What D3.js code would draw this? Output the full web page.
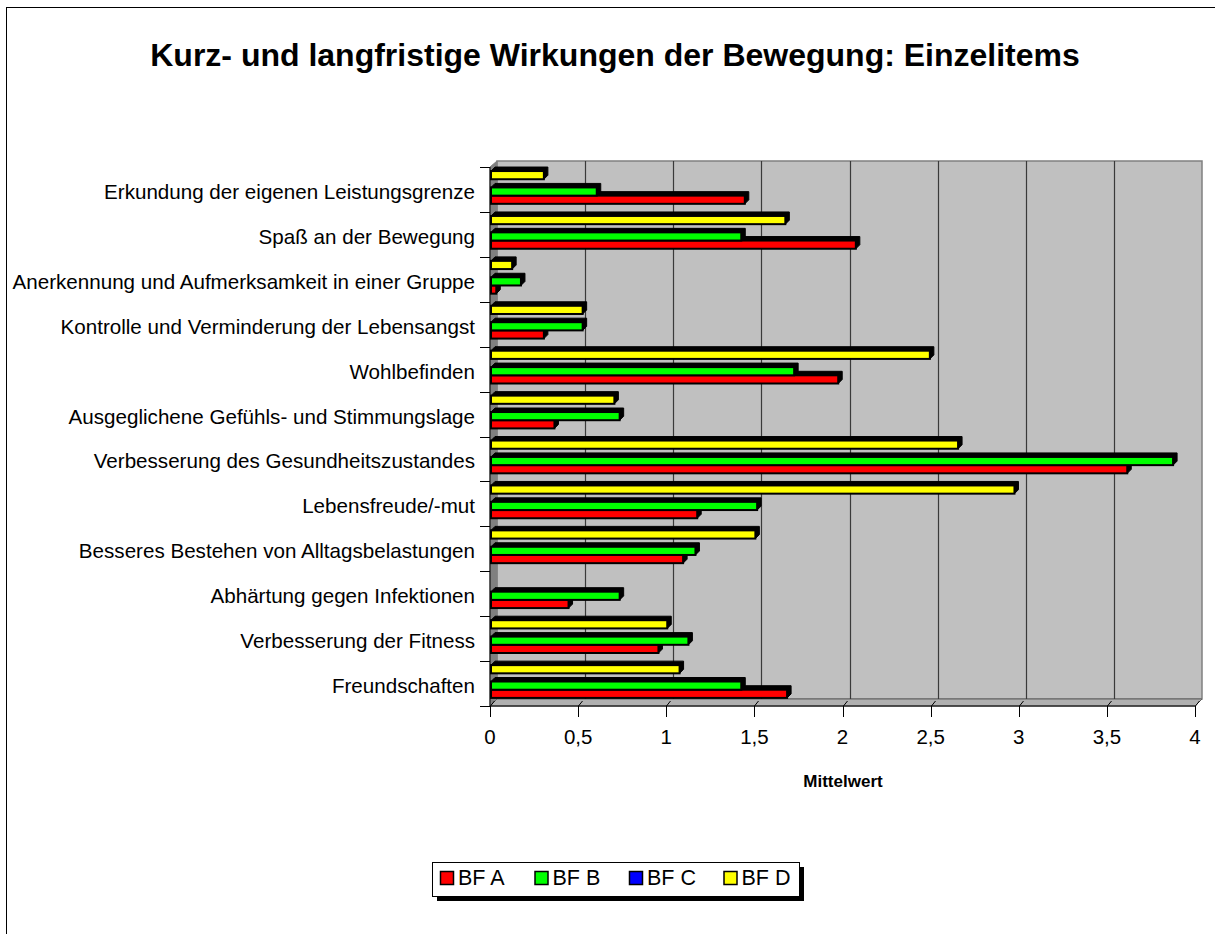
<!DOCTYPE html>
<html>

<head>
    <meta charset="utf-8">
    <script src="https://cdn.jsdelivr.net/npm/d3@7"></script>
    <style>
        body {
            margin: 0;
            background: #fff;
        }

        text {
            font-family: "Liberation Sans", Arial, sans-serif;
            fill: #000;
        }
    </style>
</head>

<body>
    <script type="text/javascript">
        "use strict";

        // categories, top to bottom as in the chart
        var categories = [
            "Erkundung der eigenen Leistungsgrenze",
            "Spaß an der Bewegung",
            "Anerkennung und Aufmerksamkeit in einer Gruppe",
            "Kontrolle und Verminderung der Lebensangst",
            "Wohlbefinden",
            "Ausgeglichene Gefühls- und Stimmungslage",
            "Verbesserung des Gesundheitszustandes",
            "Lebensfreude/-mut",
            "Besseres Bestehen von Alltagsbelastungen",
            "Abhärtung gegen Infektionen",
            "Verbesserung der Fitness",
            "Freundschaften"
        ];

        var seriesNames = ["BF A", "BF B", "BF C", "BF D"];
        var seriesColors = ["#ff0000", "#00ff00", "#0000ff", "#ffff00"];

        // Mittelwerte (null = no bar)
        var bfA = [1.44, 2.07, 0.03, 0.30, 1.97, 0.36, 3.61, 1.17, 1.09, 0.44, 0.95, 1.68];
        var bfB = [0.60, 1.42, 0.17, 0.52, 1.72, 0.73, 3.87, 1.51, 1.16, 0.73, 1.12, 1.42];
        var bfC = [null, null, null, null, null, null, null, null, null, null, null, null];
        var bfD = [0.30, 1.67, 0.12, 0.52, 2.49, 0.70, 2.65, 2.97, 1.50, null, 1.00, 1.07];

        var xTickValues = [0, 0.5, 1, 1.5, 2, 2.5, 3, 3.5, 4];
        var xTickLabels = ["0", "0,5", "1", "1,5", "2", "2,5", "3", "3,5", "4"];

        var allSeries = [bfA, bfB, bfC, bfD];

        var W = 1215, H = 934;
        var depth = 7;      // wall depth
        var barDepth = 4;   // bar 3d depth

        var svg = d3.select("body").append("svg")
            .attr("width", W)
            .attr("height", H);

        // chart border
        svg.append("rect")
            .attr("x", 6.5).attr("y", 7.5)
            .attr("width", 1300).attr("height", 1000)
            .attr("fill", "#fff")
            .attr("stroke", "#000")
            .attr("stroke-width", 1);

        svg.append("text")
            .attr("x", 615).attr("y", 66)
            .attr("text-anchor", "middle")
            .style("font-size", "32px")
            .style("font-weight", "bold")
            .text("Kurz- und langfristige Wirkungen der Bewegung: Einzelitems");

        var x = d3.scaleLinear().domain([0, 4]).range([490, 1195]);
        var y = d3.scaleBand().domain(categories).range([167, 706]);
        var sub = d3.scaleBand()
            .domain(["BF D", "BF C", "BF B", "BF A"])
            .range([y.bandwidth() * 0.09, y.bandwidth() * 0.82]);

        var plotTop = y.range()[0], plotBottom = y.range()[1];
        var x0 = x(0), x1 = x(4);

        // walls
        svg.append("rect")
            .attr("x", x0 + depth).attr("y", plotTop - depth + 1)
            .attr("width", x1 - x0).attr("height", plotBottom - plotTop - 1)
            .attr("fill", "#c0c0c0")
            .attr("stroke", "#808080")
            .attr("stroke-width", 1.5);

        svg.append("polygon")
            .attr("points", [[x0, plotTop], [x0 + depth, plotTop - depth + 1], [x0 + depth, plotBottom - depth], [x0, plotBottom]].join(" "))
            .attr("fill", "#808080")
            .attr("stroke", "#808080");

        svg.append("polygon")
            .attr("points", [[x0, plotBottom], [x0 + depth, plotBottom - depth], [x1 + depth, plotBottom - depth], [x1, plotBottom]].join(" "))
            .attr("fill", "#b0b0b0")
            .attr("stroke", "#606060");

        // gridlines on back wall
        svg.selectAll(".grid")
            .data(xTickValues.slice(1, -1))
            .enter().append("line")
            .attr("class", "grid")
            .attr("x1", function(d) { return Math.round(x(d) + depth) + 0.5; })
            .attr("x2", function(d) { return Math.round(x(d) + depth) + 0.5; })
            .attr("y1", plotTop - depth + 1)
            .attr("y2", plotBottom - depth)
            .attr("stroke", "#3a3a3a")
            .attr("stroke-width", 1.2);

        // bars
        var bars = [];
        categories.forEach(function(c, i) {
            allSeries.forEach(function(s, k) {
                if (s[i] !== null) {
                    bars.push({ cat: c, name: seriesNames[k], color: seriesColors[k], value: s[i] });
                }
            });
        });

        var barH = sub.bandwidth();
        var g = svg.selectAll(".bar")
            .data(bars)
            .enter().append("g")
            .attr("class", "bar")
            .attr("transform", function(d) {
                return "translate(0," + (y(d.cat) + sub(d.name)) + ")";
            });

        g.append("polygon")
            .attr("points", function(d) {
                var a = x(0) + 1, b = x(d.value) + 1;
                return [[a, 0], [a + barDepth, -barDepth], [b + barDepth, -barDepth], [b + barDepth, barH - barDepth], [b, barH], [b, 0]].join(" ");
            })
            .attr("fill", "#000")
            .attr("stroke", "#000")
            .attr("stroke-width", 1);

        g.append("rect")
            .attr("x", x(0) + 1)
            .attr("y", 0)
            .attr("width", function(d) { return Math.max(1, x(d.value) - x(0)); })
            .attr("height", barH)
            .attr("fill", function(d) { return d.color; })
            .attr("stroke", "#000")
            .attr("stroke-width", 2);

        // category axis
        svg.append("line")
            .attr("x1", x0).attr("x2", x0)
            .attr("y1", plotTop).attr("y2", plotBottom)
            .attr("stroke", "#000");

        var bounds = categories.map(function(c) { return y(c); }).concat([plotBottom]);
        svg.selectAll(".ytick")
            .data(bounds)
            .enter().append("line")
            .attr("class", "ytick")
            .attr("x1", x0 - 10).attr("x2", x0)
            .attr("y1", function(d) { return Math.round(d) + 0.5; })
            .attr("y2", function(d) { return Math.round(d) + 0.5; })
            .attr("stroke", "#000");

        svg.selectAll(".ylabel")
            .data(categories)
            .enter().append("text")
            .attr("class", "ylabel")
            .attr("x", 475)
            .attr("y", function(d) { return y(d) + y.bandwidth() / 2 + 2; })
            .attr("text-anchor", "end")
            .attr("dominant-baseline", "central")
            .style("font-size", "20.6px")
            .text(function(d) { return d; });

        // value axis
        svg.append("line")
            .attr("x1", x0).attr("x2", x1)
            .attr("y1", plotBottom).attr("y2", plotBottom)
            .attr("stroke", "#303030")
            .attr("stroke-width", 1.5);

        svg.selectAll(".xtick")
            .data(xTickValues)
            .enter().append("path")
            .attr("class", "xtick")
            .attr("d", function(d) {
                var p = Math.round(x(d)) + 0.5;
                return "M" + p + "," + (plotBottom + 11) + "L" + p + "," + plotBottom + "L" + (p + 4) + "," + (plotBottom - 5);
            })
            .attr("fill", "none")
            .attr("stroke", "#000");

        svg.selectAll(".xlabel")
            .data(xTickValues)
            .enter().append("text")
            .attr("class", "xlabel")
            .attr("x", function(d) { return x(d); })
            .attr("y", 736)
            .attr("text-anchor", "middle")
            .attr("dominant-baseline", "central")
            .style("font-size", "20.5px")
            .text(function(d, i) { return xTickLabels[i]; });

        svg.append("text")
            .attr("x", 843).attr("y", 781)
            .attr("text-anchor", "middle")
            .attr("dominant-baseline", "central")
            .style("font-size", "17px")
            .style("font-weight", "bold")
            .text("Mittelwert");

        // legend
        var lg = svg.append("g").attr("transform", "translate(432,862)");
        lg.append("rect")
            .attr("x", 5).attr("y", 5)
            .attr("width", 367).attr("height", 34)
            .attr("fill", "#000");
        lg.append("rect")
            .attr("x", 0.5).attr("y", 0.5)
            .attr("width", 367).attr("height", 34)
            .attr("fill", "#fff")
            .attr("stroke", "#000");

        var item = lg.selectAll(".item")
            .data(seriesNames)
            .enter().append("g")
            .attr("class", "item")
            .attr("transform", function(d, i) { return "translate(" + (8 + i * 94.5) + ",0)"; });

        item.append("rect")
            .attr("x", 0.5).attr("y", 9.5)
            .attr("width", 13).attr("height", 13)
            .attr("fill", function(d, i) { return seriesColors[i]; })
            .attr("stroke", "#000")
            .attr("stroke-width", 1.5);

        item.append("text")
            .attr("x", 18).attr("y", 23)
            .style("font-size", "21.5px")
            .text(function(d) { return d; });
    </script>
</body>

</html>
